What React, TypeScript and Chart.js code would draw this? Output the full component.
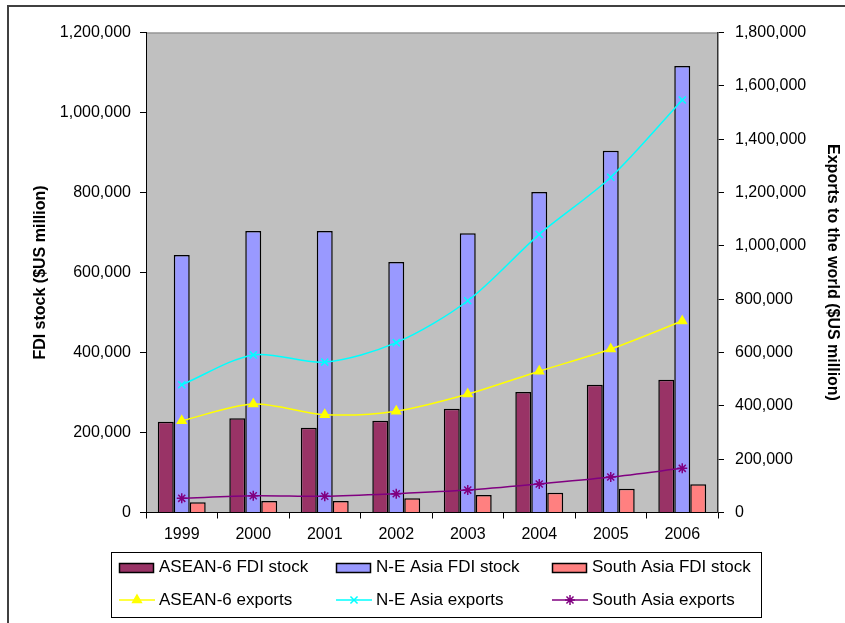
import { useEffect, useRef } from 'react';
import { Chart, registerables } from 'chart.js';
import { drawPoint } from 'chart.js/helpers';
Chart.register(...registerables);

const years = ['1999', '2000', '2001', '2002', '2003', '2004', '2005', '2006'];
const aseanFdi = [227000, 235500, 212000, 229500, 259500, 301000, 319500, 332000];
const neAsiaFdi = [644000, 704000, 704000, 626000, 698000, 801000, 904500, 1116000];
const southAsiaFdi = [25500, 29000, 29000, 35500, 44000, 49500, 59500, 70500];
const aseanExports = [344000, 407000, 367000, 380000, 444000, 530000, 613000, 718000];
const neAsiaExports = [479000, 591000, 564000, 637000, 794000, 1043000, 1257000, 1547000];
const southAsiaExports = [53000, 63000, 61000, 70500, 84000, 107000, 133000, 165500];

const FONT = "'Liberation Sans', Arial, sans-serif";

const fmt = (v: number | string) => Number(v).toLocaleString('en-US');

const bgPlugin = {
  id: 'bgPlugin',
  beforeDraw(chart: any) {
    const { ctx, chartArea, width, height } = chart;
    ctx.save();
    ctx.fillStyle = '#ffffff';
    ctx.fillRect(0, 0, width, height);
    ctx.fillStyle = '#c0c0c0';
    ctx.fillRect(chartArea.left, chartArea.top, chartArea.right - chartArea.left, chartArea.bottom - chartArea.top);
    ctx.strokeStyle = '#808080';
    ctx.lineWidth = 1;
    ctx.beginPath();
    ctx.moveTo(chartArea.left, chartArea.top + 0.5);
    ctx.lineTo(chartArea.right, chartArea.top + 0.5);
    ctx.stroke();
    // outer frame
    ctx.strokeStyle = '#404040';
    ctx.lineWidth = 2;
    ctx.beginPath();
    ctx.moveTo(8, height);
    ctx.lineTo(8, 6);
    ctx.lineTo(width, 6);
    ctx.stroke();
    ctx.restore();
  },
};

const legendPlugin = {
  id: 'boxLegend',
  afterDraw(chart: any) {
    const { ctx } = chart;
    const box = { x: 111, y: 552, w: 650, h: 65 };
    const colX = [119, 336, 552];
    const rowY = [567, 600];
    ctx.save();
    ctx.fillStyle = '#ffffff';
    ctx.fillRect(box.x, box.y, box.w, box.h);
    ctx.strokeStyle = '#000000';
    ctx.lineWidth = 1;
    ctx.strokeRect(box.x + 0.5, box.y + 0.5, box.w, box.h);
    ctx.font = `17px ${FONT}`;
    ctx.textBaseline = 'middle';
    ctx.textAlign = 'left';
    const ds = chart.data.datasets;
    ds.forEach((d: any, k: number) => {
      const x = colX[k % 3];
      const y = rowY[Math.floor(k / 3)];
      if (d.type === 'bar') {
        ctx.fillStyle = d.backgroundColor;
        ctx.fillRect(x, y - 4, 34, 9);
        ctx.strokeStyle = '#000';
        ctx.lineWidth = 1.5;
        ctx.strokeRect(x + 0.5, y - 4 + 0.5, 34, 9);
      } else {
        ctx.strokeStyle = d.borderColor;
        ctx.lineWidth = 1.5;
        ctx.beginPath();
        ctx.moveTo(x, y);
        ctx.lineTo(x + 36, y);
        ctx.stroke();
        ctx.fillStyle = d.pointBackgroundColor;
        ctx.strokeStyle = d.pointBorderColor;
        ctx.lineWidth = 1.5;
        drawPoint(ctx, { pointStyle: d.pointStyle, radius: d.pointRadius, rotation: 0, borderWidth: 1.5 }, x + 18, y);
      }
      ctx.fillStyle = '#000';
      ctx.fillText(d.label, x + 40, y);
    });
    ctx.restore();
  },
};

export default function App() {
  const ref = useRef<HTMLCanvasElement>(null);
  useEffect(() => {
    const barCommon = { borderColor: '#000000', borderWidth: 1.5, categoryPercentage: 0.67, barPercentage: 1, yAxisID: 'y', order: 2 };
    const lineCommon = { yAxisID: 'y1', borderWidth: 1.5, tension: 0.3, pointRadius: 5, pointBorderWidth: 1.5, order: 1, fill: false };
    const chart = new Chart(ref.current!, {
      type: 'bar',
      data: {
        labels: years,
        datasets: [
          { ...barCommon, type: 'bar', label: 'ASEAN-6 FDI stock', data: aseanFdi, backgroundColor: '#993366' },
          { ...barCommon, type: 'bar', label: 'N-E Asia FDI stock', data: neAsiaFdi, backgroundColor: '#9999ff' },
          { ...barCommon, type: 'bar', label: 'South Asia FDI stock', data: southAsiaFdi, backgroundColor: '#ff8080' },
          { ...lineCommon, type: 'line', label: 'ASEAN-6 exports', data: aseanExports, borderColor: '#ffff00', pointStyle: 'triangle', pointBackgroundColor: '#ffff00', pointBorderColor: '#ffff00' },
          { ...lineCommon, type: 'line', label: 'N-E Asia exports', data: neAsiaExports, borderColor: '#00ffff', pointStyle: 'crossRot', pointBackgroundColor: '#00ffff', pointBorderColor: '#00ffff' },
          { ...lineCommon, type: 'line', label: 'South Asia exports', data: southAsiaExports, borderColor: '#800080', pointStyle: 'star', pointBackgroundColor: '#800080', pointBorderColor: '#800080' },
        ] as any,
      },
      options: {
        animation: false,
        responsive: true,
        maintainAspectRatio: false,
        layout: { padding: { left: 0, right: 0, top: 32.5, bottom: 70.5 } },
        plugins: { legend: { display: false }, tooltip: { enabled: false } },
        scales: {
          x: {
            offset: true,
            grid: { display: true, drawOnChartArea: false, offset: true, tickLength: 6, color: '#000' },
            border: { display: true, color: '#000' },
            ticks: { color: '#000', font: { family: FONT, size: 16 }, padding: 6, maxRotation: 0 },
            afterFit: (s: any) => { s.height = 40; },
          },
          y: {
            position: 'left',
            min: 0,
            max: 1200000,
            ticks: { stepSize: 200000, color: '#000', font: { family: FONT, size: 16 }, padding: 9, callback: (v: any) => fmt(v) },
            grid: { display: true, drawOnChartArea: false, tickLength: 6, color: '#000' },
            border: { display: true, color: '#000' },
            title: { display: true, text: 'FDI stock ($US million)', color: '#000', font: { family: FONT, size: 16, weight: 'bold' }, padding: { top: 31, bottom: 0 } },
            afterFit: (s: any) => { s.width = 146; },
          },
          y1: {
            position: 'right',
            min: 0,
            max: 1800000,
            ticks: { stepSize: 200000, color: '#000', font: { family: FONT, size: 16 }, padding: 11, callback: (v: any) => fmt(v) },
            grid: { display: true, drawOnChartArea: false, tickLength: 6, color: '#000' },
            border: { display: true, color: '#333', width: 1.5 },
            title: { display: true, text: 'Exports to the world ($US million)', color: '#000', font: { family: FONT, size: 16, weight: 'bold' }, padding: { top: 3, bottom: 0 } },
            afterFit: (s: any) => { s.width = 127; },
          },
        },
      } as any,
      plugins: [bgPlugin, legendPlugin],
    });
    return () => chart.destroy();
  }, []);
  return (
    <div style={{ position: 'absolute', left: 0, top: 0, width: 845, height: 623, background: '#fff' }}>
      <canvas ref={ref} />
    </div>
  );
}
